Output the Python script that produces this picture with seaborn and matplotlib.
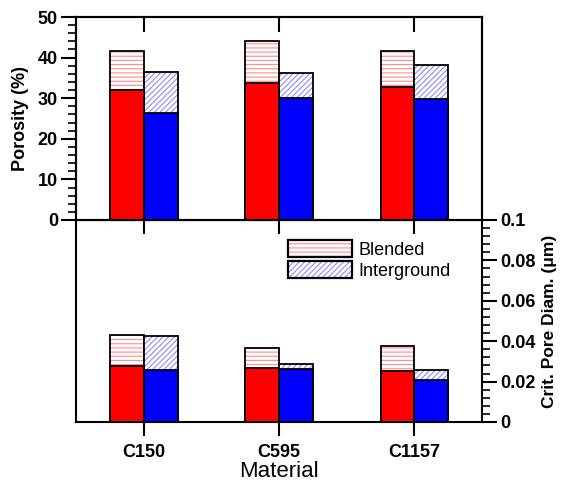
import matplotlib
matplotlib.use("Agg")
import matplotlib.pyplot as plt
import matplotlib.colors as mcolors
from matplotlib.patches import Patch
from matplotlib.ticker import MultipleLocator, FixedLocator, NullFormatter
import seaborn as sns
import pandas as pd

# ---- data ----
materials = ["C150", "C595", "C1157"]
types = ["Blended", "Interground"]
por_total_blended = [41.7, 44.0, 41.7]
por_total_inter = [36.5, 36.3, 38.3]
por_base_blended = [31.9, 33.8, 32.7]
por_base_inter = [26.3, 30.0, 29.8]
cpd_total_blended = [0.0432, 0.0368, 0.0378]
cpd_total_inter = [0.0428, 0.0288, 0.0257]
cpd_base_blended = [0.0275, 0.0265, 0.0253]
cpd_base_inter = [0.0258, 0.0260, 0.0210]

sns.set_style("ticks", {"axes.edgecolor": "black", "xtick.color": "black",
                        "ytick.color": "black", "text.color": "black",
                        "axes.labelcolor": "black"})
plt.rcParams["font.family"] = ["Liberation Sans", "DejaVu Sans"]
plt.rcParams["hatch.linewidth"] = 0.8

RED, BLUE = "#ff0000", "#0000ff"
RED_H, BLUE_H = "#ff8c8c", "#8c8cff"
HATCH_R, HATCH_B = "----", "//////"


def make_df(bl, it):
    return pd.DataFrame({
        "Material": materials * 2,
        "Type": [types[0]] * 3 + [types[1]] * 3,
        "value": list(bl) + list(it),
    })


def set_hc(p, c):
    try:
        p.set_hatchcolor(c)
    except AttributeError:
        p._hatch_color = mcolors.to_rgba(c)


def draw_panel(ax, tb, ti, bb, bi):
    sns.barplot(data=make_df(tb, ti), x="Material", y="value", hue="Type",
                hue_order=types, palette=["white", "white"], width=0.5,
                saturation=1, errorbar=None, edgecolor="black", linewidth=1.3,
                legend=False, ax=ax)
    for cont, h, hc in zip(ax.containers, [HATCH_R, HATCH_B], [RED_H, BLUE_H]):
        for p in cont:
            p.set_hatch(h)
            set_hc(p, hc)
    sns.barplot(data=make_df(bb, bi), x="Material", y="value", hue="Type",
                hue_order=types, palette=[RED, BLUE], width=0.5,
                saturation=1, errorbar=None, edgecolor="black", linewidth=1.3,
                legend=False, ax=ax)
    ax.set_xlim(-0.5, 2.5)
    ax.set_xlabel("")
    ax.set_ylabel("")


fig = plt.figure(figsize=(5.65, 4.87), dpi=100)
L, R = 76 / 565, 482 / 565
ax2 = fig.add_axes([L, 1 - 422 / 487, R - L, 202 / 487])
ax1 = fig.add_axes([L, 1 - 220 / 487, R - L, 203 / 487])
ax1.set_zorder(5)
ax2.set_zorder(1)

draw_panel(ax1, por_total_blended, por_total_inter, por_base_blended, por_base_inter)
draw_panel(ax2, cpd_total_blended, cpd_total_inter, cpd_base_blended, cpd_base_inter)

TS = 13

# top panel
ax1.set_ylim(0, 50)
ax1.yaxis.set_major_locator(MultipleLocator(10))
ax1.yaxis.set_minor_locator(MultipleLocator(2))
ax1.tick_params(axis="y", which="major", direction="out", length=11, width=1.5,
                labelsize=TS, pad=2)
ax1.tick_params(axis="y", which="minor", direction="out", length=6, width=1.2)
for lab in ax1.get_yticklabels():
    lab.set_fontweight("bold")
ax1.tick_params(axis="x", direction="out", length=10, width=1.5,
                labelbottom=False, labeltop=False, bottom=True, top=False)
for s in ax1.spines.values():
    s.set_visible(True)
    s.set_linewidth(1.5)
ax1.set_ylabel("Porosity (%)", fontsize=13, fontweight="bold", labelpad=6)

# inward ticks along the top edge of the upper panel
ax3 = ax1.twiny()
ax3.set_xlim(ax1.get_xlim())
ax3.xaxis.set_major_locator(FixedLocator(range(len(materials))))
ax3.xaxis.set_major_formatter(NullFormatter())
ax3.tick_params(axis="x", direction="in", length=11, width=1.5,
                top=True, bottom=False, labeltop=False, labelbottom=False)
ax3.tick_params(axis="y", left=False, right=False, labelleft=False,
                labelright=False)
for s in ax3.spines.values():
    s.set_linewidth(1.5)

# bottom panel
ax2.set_ylim(0, 0.1)
ax2.yaxis.tick_right()
ax2.yaxis.set_label_position("right")
ax2.yaxis.set_minor_locator(MultipleLocator(0.004))
ax2.set_yticks([0, 0.02, 0.04, 0.06, 0.08, 0.1])
ax2.set_yticklabels(["0", "0.02", "0.04", "0.06", "0.08", "0.1"])
ax2.tick_params(axis="y", which="major", direction="out", length=11, width=1.5,
                labelsize=TS, pad=2, left=False, right=True)
ax2.tick_params(axis="y", which="minor", direction="out", length=6, width=1.2,
                left=False, right=True)
for lab in ax2.get_yticklabels():
    lab.set_fontweight("bold")
ax2.tick_params(axis="x", direction="out", length=10, width=1.5, labelsize=TS,
                pad=6, top=False, bottom=True)
for lab in ax2.get_xticklabels():
    lab.set_fontweight("bold")
for s in ax2.spines.values():
    s.set_visible(True)
    s.set_linewidth(1.5)
ax2.set_ylabel("Crit. Pore Diam. (μm)", fontsize=12.5, fontweight="bold",
               labelpad=5)
ax2.set_xlabel("Material", fontsize=16, labelpad=0)

# legend
def legend_handle(h, hc):
    hp = Patch(facecolor="white", edgecolor="black", linewidth=1.6, hatch=h)
    set_hc(hp, hc)
    return hp

handles = [legend_handle(HATCH_R, RED_H), legend_handle(HATCH_B, BLUE_H)]
ax2.legend(handles, types, loc="upper left", bbox_to_anchor=(0.522, 0.90),
           frameon=False, fontsize=13, handlelength=3.55, handleheight=1.05,
           labelspacing=0.15, handletextpad=0.35, borderaxespad=0,
           borderpad=0)

fig.savefig("out.png", dpi=100)
